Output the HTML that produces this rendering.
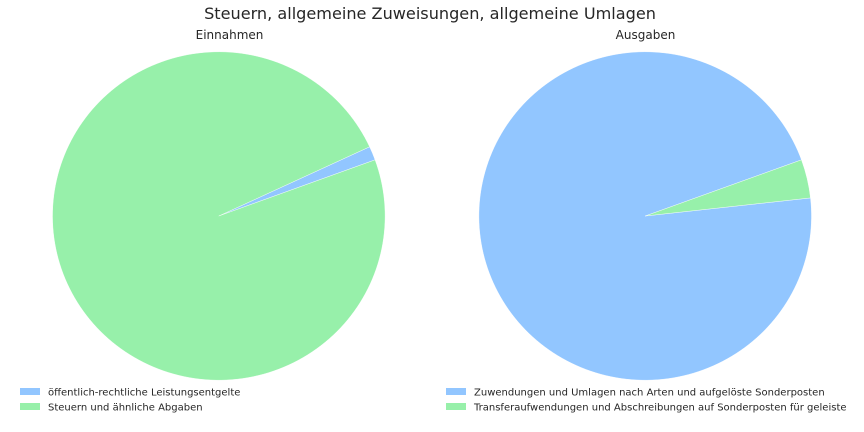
<!DOCTYPE html>
<html lang="de">
<head>
<meta charset="utf-8">
<title>Steuern, allgemeine Zuweisungen, allgemeine Umlagen</title>
<style>
html,body{margin:0;padding:0;background:#fff;}
svg{display:block;}
text{font-family:"DejaVu Sans","Liberation Sans",sans-serif;fill:#262626;}
</style>
</head>
<body>
<svg id="chart" width="864" height="432" viewBox="0 0 864 432" xmlns="http://www.w3.org/2000/svg">
  <rect width="864" height="432" fill="#ffffff"/>
  <text x="430" y="19" font-size="16.1" text-anchor="middle">Steuern, allgemeine Zuweisungen, allgemeine Umlagen</text>
  <text x="229.5" y="39" font-size="12" text-anchor="middle">Einnahmen</text>
  <text x="645.5" y="39" font-size="12" text-anchor="middle">Ausgaben</text>
</svg>
<script>
const einnahmenLabels = ["öffentlich-rechtliche Leistungsentgelte", "Steuern und ähnliche Abgaben"];
const einnahmenValues = [1.37, 98.63];
const ausgabenLabels = ["Zuwendungen und Umlagen nach Arten und aufgelöste Sonderposten", "Transferaufwendungen und Abschreibungen auf Sonderposten für geleiste"];
const ausgabenValues = [96.2, 3.8];
const sliceColors = ["#92c6ff", "#97f0aa"];
const startAngle = 20;

const svg = document.getElementById('chart');
const NS = 'http://www.w3.org/2000/svg';

function slicePath(cx, cy, rx, ry, a0, a1) {
  const x0 = cx + rx * Math.cos(a0 * Math.PI / 180);
  const y0 = cy - ry * Math.sin(a0 * Math.PI / 180);
  const x1 = cx + rx * Math.cos(a1 * Math.PI / 180);
  const y1 = cy - ry * Math.sin(a1 * Math.PI / 180);
  const large = (a1 - a0) > 180 ? 1 : 0;
  return 'M' + cx + ',' + cy + ' L' + x0 + ',' + y0 + ' A' + rx + ',' + ry + ' 0 ' + large + ' 0 ' + x1 + ',' + y1 + ' Z';
}

function drawPie(prefix, values, cx, cy, rx, ry) {
  const total = values.reduce(function (s, v) { return s + v; }, 0);
  let angle = startAngle;
  values.forEach(function (v, i) {
    const sweep = v / total * 360;
    const p = document.createElementNS(NS, 'path');
    p.setAttribute('d', slicePath(cx, cy, rx, ry, angle, angle + sweep));
    p.setAttribute('fill', sliceColors[i]);
    p.setAttribute('stroke', '#ffffff');
    p.setAttribute('stroke-width', '0.4');
    
    
    svg.appendChild(p);
    angle += sweep;
  });
}

function drawLegend(prefix, labels, x, y0) {
  labels.forEach(function (label, i) {
    const y = y0 + i * 15;
    const swatch = document.createElementNS(NS, 'rect');
    swatch.setAttribute('x', x);
    swatch.setAttribute('y', y);
    swatch.setAttribute('width', 20);
    swatch.setAttribute('height', 7);
    swatch.setAttribute('fill', sliceColors[i]);
    
    
    svg.appendChild(swatch);
    const t = document.createElementNS(NS, 'text');
    t.setAttribute('x', x + 28);
    t.setAttribute('y', y + 7.5);
    t.setAttribute('font-size', '10');
    t.textContent = label;
    
    
    svg.appendChild(t);
  });
}

drawPie('einnahmen', einnahmenValues, 218.8, 216, 166.3, 164.2);
drawPie('ausgaben', ausgabenValues, 645.2, 216, 166.3, 164.2);
drawLegend('einnahmen', einnahmenLabels, 20, 388);
drawLegend('ausgaben', ausgabenLabels, 446, 388);
</script>
</body>
</html>
